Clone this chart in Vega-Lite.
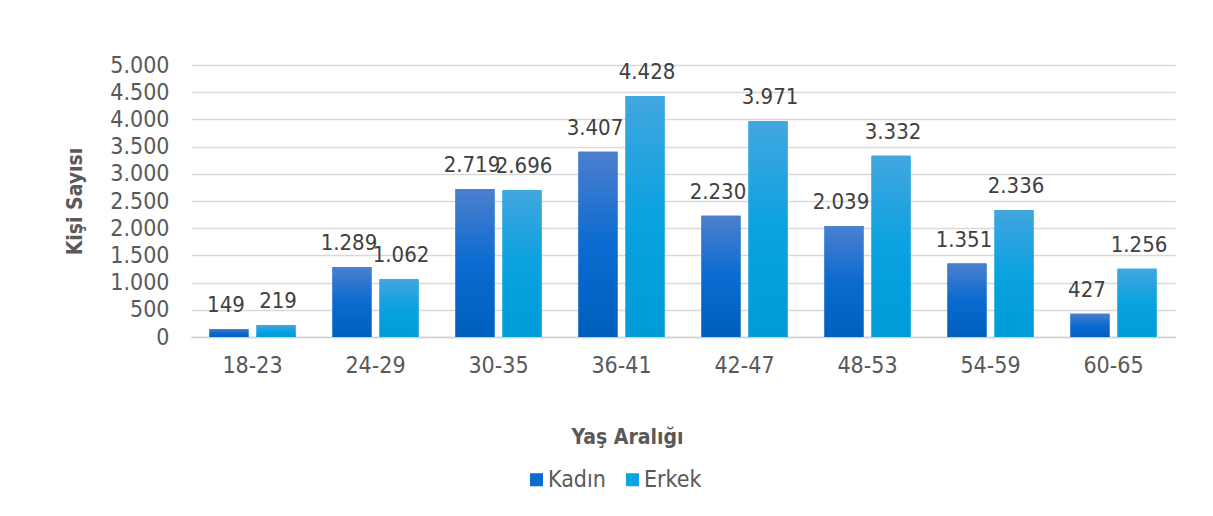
{
  "$schema": "https://vega.github.io/schema/vega-lite/v6.json",
  "width": 984,
  "height": 272,
  "autosize": {"type": "none"},
  "padding": {"left": 191, "top": 65, "right": 38, "bottom": 179},
  "background": "white",
  "config": {
    "locale": {"number": {"decimal": ",", "thousands": ".", "grouping": [3], "currency": ["", " TL"]}},
    "font": "DejaVu Sans Condensed",
    "view": {"stroke": null},
    "axis": {"labelFont": "DejaVu Sans Condensed", "titleFont": "DejaVu Sans Condensed"},
    "legend": {"labelFont": "DejaVu Sans Condensed"}
  },
  "data": {
    "values": [
      {"yas": "18-23", "cinsiyet": "Kadın", "sayi": 149},
      {"yas": "18-23", "cinsiyet": "Erkek", "sayi": 219},
      {"yas": "24-29", "cinsiyet": "Kadın", "sayi": 1289},
      {"yas": "24-29", "cinsiyet": "Erkek", "sayi": 1062},
      {"yas": "30-35", "cinsiyet": "Kadın", "sayi": 2719},
      {"yas": "30-35", "cinsiyet": "Erkek", "sayi": 2696},
      {"yas": "36-41", "cinsiyet": "Kadın", "sayi": 3407},
      {"yas": "36-41", "cinsiyet": "Erkek", "sayi": 4428},
      {"yas": "42-47", "cinsiyet": "Kadın", "sayi": 2230},
      {"yas": "42-47", "cinsiyet": "Erkek", "sayi": 3971},
      {"yas": "48-53", "cinsiyet": "Kadın", "sayi": 2039},
      {"yas": "48-53", "cinsiyet": "Erkek", "sayi": 3332},
      {"yas": "54-59", "cinsiyet": "Kadın", "sayi": 1351},
      {"yas": "54-59", "cinsiyet": "Erkek", "sayi": 2336},
      {"yas": "60-65", "cinsiyet": "Kadın", "sayi": 427},
      {"yas": "60-65", "cinsiyet": "Erkek", "sayi": 1256}
    ]
  },
  "encoding": {
    "x": {
      "field": "yas", "type": "nominal", "sort": null,
      "scale": {"paddingInner": 0.3, "paddingOuter": 0.15},
      "axis": {
        "title": "Yaş Aralığı", "labelAngle": 0, "labelFontSize": 23, "labelColor": "#595959",
        "labelPadding": 17, "ticks": false, "domainColor": "#d0d0d0", "domainWidth": 1.5,
        "titleFontSize": 21, "titleFontWeight": "bold", "titleColor": "#595959",
        "titleX": 436, "titleY": 100, "titleBaseline": "middle", "titleAnchor": "middle"
      }
    },
    "xOffset": {"field": "cinsiyet", "type": "nominal", "sort": ["Kadın", "Erkek"], "scale": {"domain": ["Kadın", "Erkek"], "paddingInner": 0.17, "paddingOuter": 0}},
    "y": {
      "field": "sayi", "type": "quantitative",
      "scale": {"domain": [0, 5000], "nice": false},
      "axis": {
        "title": "Kişi Sayısı", "values": [0, 500, 1000, 1500, 2000, 2500, 3000, 3500, 4000, 4500, 5000],
        "format": ",d", "labelFontSize": 23, "labelColor": "#595959", "labelPadding": 22,
        "ticks": false, "domain": false, "gridColor": "#d9d9d9", "gridWidth": 1.5,
        "titleFontSize": 21, "titleFontWeight": "bold", "titleColor": "#595959",
        "titleX": -116, "titleY": 136, "titleAngle": -90, "titleBaseline": "middle", "titleAnchor": "middle"
      }
    }
  },
  "layer": [
    {
      "mark": {"type": "bar"},
      "encoding": {
        "color": {
          "field": "cinsiyet", "type": "nominal", "sort": ["Kadın", "Erkek"],
          "scale": {"domain": ["Kadın", "Erkek"], "range": ["#0b6bd0", "#0aa2e0"]},
          "legend": {
            "title": null, "orient": "none", "direction": "horizontal", "legendX": 334, "legendY": 403,
            "symbolType": "square", "symbolSize": 169, "labelFontSize": 23, "labelColor": "#595959",
            "labelOffset": 0, "columnPadding": 15, "symbolStrokeWidth": 0
          }
        }
      }
    },
    {
      "transform": [{"filter": "datum.cinsiyet === 'Kadın'"}],
      "mark": {"type": "bar", "color": {"gradient": "linear", "x1": 0, "y1": 0, "x2": 0, "y2": 1, "stops": [{"offset": 0, "color": "#4c7fce"}, {"offset": 0.5, "color": "#0b6bd0"}, {"offset": 1, "color": "#005fbd"}]}},
      "encoding": {}
    },
    {
      "transform": [{"filter": "datum.cinsiyet === 'Erkek'"}],
      "mark": {"type": "bar", "color": {"gradient": "linear", "x1": 0, "y1": 0, "x2": 0, "y2": 1, "stops": [{"offset": 0, "color": "#42a6df"}, {"offset": 0.5, "color": "#0aa2e0"}, {"offset": 1, "color": "#009bd9"}]}},
      "encoding": {}
    },
    {
      "transform": [{"filter": "datum.cinsiyet === 'Kadın'"}],
      "mark": {"type": "text", "baseline": "alphabetic", "dy": -17, "dx": -3, "fontSize": 22, "color": "#404040"},
      "encoding": {
        "text": {"field": "sayi", "type": "quantitative", "format": ",d"}
      }
    },
    {
      "transform": [{"filter": "datum.cinsiyet === 'Erkek'"}],
      "mark": {"type": "text", "baseline": "alphabetic", "dy": -17, "dx": 2, "fontSize": 22, "color": "#404040"},
      "encoding": {
        "text": {"field": "sayi", "type": "quantitative", "format": ",d"}
      }
    }
  ]
}
